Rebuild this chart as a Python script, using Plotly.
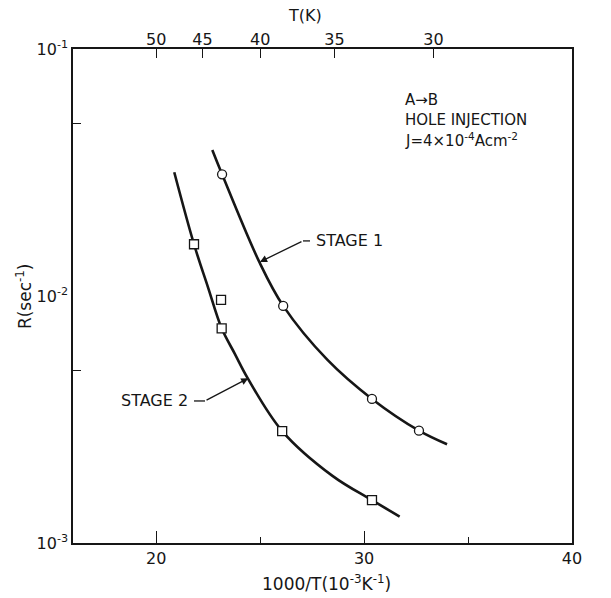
import plotly.graph_objects as go

# Measured points (1000/T in 10^-3 K^-1, rate R in s^-1)
stage1_x = [23.17, 26.11, 30.38, 32.64]
stage1_R = [0.0311, 0.00912, 0.00383, 0.00285]
stage2_x = [21.82, 23.12, 23.15, 26.06, 30.38]
stage2_R = [0.0162, 0.00964, 0.0074, 0.00284, 0.00149]

# Smooth fitted curves drawn through the data
stage1_curve_x = [22.70, 23.17, 24.96, 26.11, 28.24, 30.38, 32.64, 33.99]
stage1_curve_R = [0.0390, 0.0311, 0.01374, 0.00912, 0.00551, 0.00383, 0.00285, 0.00251]
stage2_curve_x = [20.87, 21.82, 22.49, 23.15, 23.79, 24.40, 26.06, 28.48, 30.38, 31.71]
stage2_curve_R = [0.0317, 0.0162, 0.01087, 0.0074, 0.00582, 0.00465, 0.00284, 0.00187, 0.00149, 0.00128]

# Axis ticks
x_ticks = [20, 30, 40]
x_minor = [25, 35]
y_ticks = [0.1, 0.01, 0.001]
y_tick_text = ["10<sup>-1</sup>", "10<sup>-2</sup>", "10<sup>-3</sup>"]
y_minor = [0.05, 0.005]
T_ticks = [50, 45, 40, 35, 30]

FONT = "DejaVu Sans"
INK = "#161616"

fig = go.Figure()

for cx, cy in [(stage1_curve_x, stage1_curve_R), (stage2_curve_x, stage2_curve_R)]:
    fig.add_trace(go.Scatter(x=cx, y=cy, mode="lines",
                             line=dict(color=INK, width=2.6, shape="spline", smoothing=1.0),
                             hoverinfo="skip", showlegend=False))

fig.add_trace(go.Scatter(x=stage1_x, y=stage1_R, mode="markers",
                         marker=dict(symbol="circle", size=9, color="white",
                                     line=dict(color=INK, width=1.3)),
                         showlegend=False))
fig.add_trace(go.Scatter(x=stage2_x, y=stage2_R, mode="markers",
                         marker=dict(symbol="square", size=9, color="white",
                                     line=dict(color=INK, width=1.3)),
                         showlegend=False))

# short horizontal dashes of the label leaders
fig.add_trace(go.Scatter(x=[27.06, 27.40], y=[10 ** -1.777, 10 ** -1.777], mode="lines",
                         line=dict(color=INK, width=1.3), hoverinfo="skip", showlegend=False))
fig.add_trace(go.Scatter(x=[21.82, 22.35], y=[10 ** -2.425, 10 ** -2.425], mode="lines",
                         line=dict(color=INK, width=1.3), hoverinfo="skip", showlegend=False))

# invisible trace carrying the top temperature axis
fig.add_trace(go.Scatter(x=[16, 40], y=[0.01, 0.01], xaxis="x2", mode="lines",
                         line=dict(width=0), hoverinfo="skip", showlegend=False))

annotations = [
    # leader arrows
    dict(x=24.99, y=-1.862, ax=27.06, ay=-1.777, xref="x", yref="y", axref="x", ayref="y",
         text="", showarrow=True, arrowhead=2, arrowsize=1.1, arrowwidth=1.3, arrowcolor=INK),
    dict(x=24.43, y=-2.333, ax=22.35, ay=-2.425, xref="x", yref="y", axref="x", ayref="y",
         text="", showarrow=True, arrowhead=2, arrowsize=1.1, arrowwidth=1.3, arrowcolor=INK),
    dict(x=27.59, y=-1.777, xref="x", yref="y", text="STAGE 1", showarrow=False,
         xanchor="left", yanchor="middle", font=dict(size=16)),
    dict(x=21.63, y=-2.425, xref="x", yref="y", text="STAGE 2", showarrow=False,
         xanchor="right", yanchor="middle", font=dict(size=16)),
    # condition block
    dict(x=0.661, y=0.897, xref="paper", yref="paper", text="A\u2192B", showarrow=False,
         xanchor="left", yanchor="middle", font=dict(size=15)),
    dict(x=0.661, y=0.856, xref="paper", yref="paper", text="HOLE INJECTION", showarrow=False,
         xanchor="left", yanchor="middle", font=dict(size=15)),
    dict(x=0.661, y=0.816, xref="paper", yref="paper",
         text="J=4\u00d710<sup>-4</sup>Acm<sup>-2</sup>", showarrow=False,
         xanchor="left", yanchor="middle", font=dict(size=15)),
    # axis titles
    dict(x=-0.098, y=0.5, xref="paper", yref="paper", text="R(sec<sup>-1</sup>)",
         textangle=-90, showarrow=False, xanchor="center", yanchor="middle", font=dict(size=17)),
    dict(x=0.509, y=-0.081, xref="paper", yref="paper",
         text="1000/T(10<sup>-3</sup>K<sup>-1</sup>)", showarrow=False,
         xanchor="center", yanchor="middle", font=dict(size=17)),
    dict(x=0.465, y=1.068, xref="paper", yref="paper", text="T(K)", showarrow=False,
         xanchor="center", yanchor="middle", font=dict(size=16)),
]

fig.update_layout(
    width=611, height=598,
    margin=dict(l=73, r=39, t=49, b=55),
    paper_bgcolor="white", plot_bgcolor="white",
    font=dict(family=FONT, size=16, color=INK),
    showlegend=False,
    annotations=annotations,
    xaxis=dict(range=[16, 40], tickvals=x_ticks, ticktext=[str(v) for v in x_ticks],
               ticks="inside", ticklen=12, tickwidth=1.3, tickcolor=INK,
               minor=dict(tickvals=x_minor, ticks="inside", ticklen=6, tickwidth=1.3, tickcolor=INK),
               showline=True, linecolor=INK, linewidth=1.5, mirror=True,
               showgrid=False, zeroline=False, tickfont=dict(size=16)),
    xaxis2=dict(range=[16, 40], overlaying="x", side="top", anchor="y",
                tickvals=[1000 / t for t in T_ticks], ticktext=[str(t) for t in T_ticks],
                ticks="inside", ticklen=9, tickwidth=1.3, tickcolor=INK,
                showline=False, showgrid=False, zeroline=False, tickfont=dict(size=16)),
    yaxis=dict(type="log", range=[-3, -1], tickvals=y_ticks, ticktext=y_tick_text,
               ticks="", minor=dict(tickvals=y_minor, ticks="inside", ticklen=8,
                                    tickwidth=1.3, tickcolor=INK),
               showline=True, linecolor=INK, linewidth=1.5, mirror=True,
               showgrid=False, zeroline=False, tickfont=dict(size=16)),
)

fig.write_html("out.html")
